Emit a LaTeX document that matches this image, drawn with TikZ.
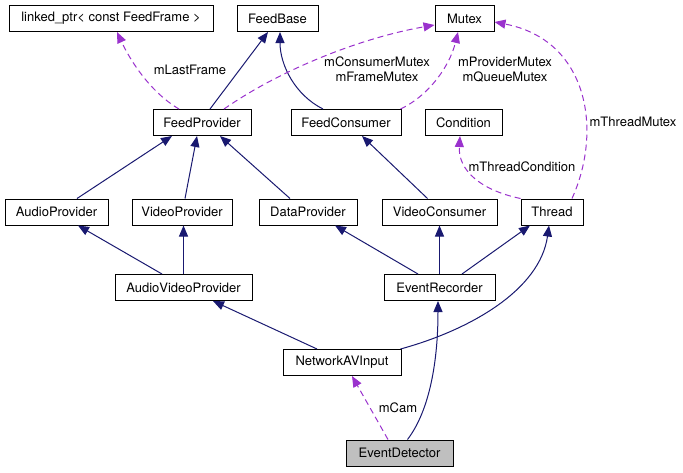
\documentclass[tikz,border=0pt]{standalone}
\usepackage{fontspec}
\setmainfont{TeX Gyre Heros}
\usetikzlibrary{arrows.meta}
\definecolor{inhcol}{HTML}{191970}
\definecolor{usecol}{HTML}{9A32CD}
\begin{document}
\begin{tikzpicture}[x=1pt,y=-1pt,
  font=\fontsize{13}{15}\selectfont,
  cls/.style={draw=black,line width=1pt,fill=white,minimum height=26pt,inner sep=0pt,anchor=center},
  inh/.style={draw=inhcol,line width=1pt,-{Triangle[length=11pt,width=9pt]}},
  use/.style={draw=usecol,line width=1pt,dash pattern=on 6pt off 4pt,-{Triangle[length=11pt,width=9pt]}},
  lbl/.style={inner sep=0pt,align=center,font=\fontsize{13}{15}\selectfont}]
\useasboundingbox (0,0) rectangle (683,472);
% nodes
\node[cls,minimum width=204pt] (LP) at (111,18.5) {linked\_ptr< const FeedFrame >};
\node[cls,minimum width=81pt] (FB) at (277.5,18.5) {FeedBase};
\node[cls,minimum width=59pt] (MX) at (464.5,18.5) {Mutex};
\node[cls,minimum width=98pt] (FP) at (202,122.5) {FeedProvider};
\node[cls,minimum width=110pt] (FC) at (346,122.5) {FeedConsumer};
\node[cls,minimum width=77pt] (CO) at (463.5,122.5) {Condition};
\node[cls,minimum width=103pt] (AP) at (56.5,212) {AudioProvider};
\node[cls,minimum width=100pt] (VP) at (182,212) {VideoProvider};
\node[cls,minimum width=98pt] (DP) at (308,212) {DataProvider};
\node[cls,minimum width=115pt] (VC) at (439.5,212) {VideoConsumer};
\node[cls,minimum width=62pt] (TH) at (552,212) {Thread};
\node[cls,minimum width=137pt] (AVP) at (183.5,287.5) {AudioVideoProvider};
\node[cls,minimum width=111pt] (ER) at (439.5,287.5) {EventRecorder};
\node[cls,minimum width=118pt] (NAV) at (342,362.5) {NetworkAVInput};
\node[cls,minimum width=107pt,fill={rgb,255:red,191;green,191;blue,191}] (ED) at (399.5,453) {EventDetector};
% inheritance
\draw[inh] ([xshift=8pt]FP.north) -- ([xshift=-9.5pt]FB.south);
\draw[inh] ([xshift=-23pt]FC.north) .. controls (295,95) and (280,65) .. ([xshift=2.5pt]FB.south);
\draw[inh] ([xshift=20.5pt]AP.north) -- ([xshift=-30pt]FP.south);
\draw[inh] ([xshift=3pt]VP.north) -- ([xshift=-5pt]FP.south);
\draw[inh] ([xshift=-18pt]DP.north) -- ([xshift=18pt]FP.south);
\draw[inh] ([xshift=-12pt]VC.north) -- ([xshift=16pt]FC.south);
\draw[inh] ([xshift=-21.5pt]AVP.north) -- ([xshift=21.5pt]AP.south);
\draw[inh] (AVP.north) -- (AVP.north |- VP.south);
\draw[inh] ([xshift=-21.5pt]ER.north) -- ([xshift=27pt]DP.south);
\draw[inh] (ER.north) -- (VC.south);
\draw[inh] ([xshift=22.5pt]ER.north) -- ([xshift=-22pt]TH.south);
\draw[inh] ([xshift=-25pt]NAV.north) -- ([xshift=29.5pt]AVP.south);
\draw[inh] ([xshift=-1pt]NAV.north east) .. controls (470,330) and (540,290) .. ([xshift=-3pt]TH.south);
\draw[inh] ([xshift=8pt]ED.north) .. controls (430,410) and (438,360) .. ([xshift=-1.5pt]ER.south);
% usage
\draw[use] ([xshift=-23pt]FP.north) .. controls (150,92) and (130,60) .. ([xshift=6pt]LP.south);
\node[lbl] (l1) at (190,70) {mLastFrame};
\draw[use] ([xshift=22pt]FP.north) .. controls (280,70) and (360,38) .. ([yshift=-6.5pt]MX.west);
\node[lbl] (l2) at (377,69.5) {mConsumerMutex\\mFrameMutex};
\draw[use] ([xshift=-1pt]FC.north east) .. controls (430,95) and (450,65) .. ([xshift=-6.5pt]MX.south);
\node[lbl] (l3) at (505,69.5) {mProviderMutex\\mQueueMutex};
\draw[use] ([xshift=20pt]TH.north) .. controls (603,130) and (588,40) .. ([yshift=-3.5pt]MX.east);
\node[lbl] (l4) at (633,122) {mThreadMutex};
\draw[use] (TH.north west) .. controls (480,190) and (458,170) .. ([xshift=-3.5pt]CO.south);
\node[lbl] (l5) at (522,167) {mThreadCondition};
\draw[use] ([xshift=-11.5pt]ED.north) -- ([xshift=10pt]NAV.south);
\node[lbl] (l6) at (398,408) {mCam};
\end{tikzpicture}
\end{document}
